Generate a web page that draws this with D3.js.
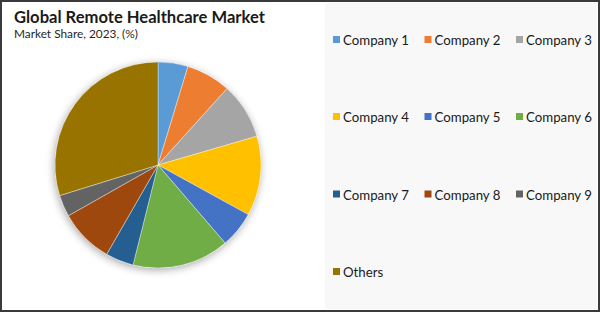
<!DOCTYPE html>
<html><head><meta charset="utf-8">
<script src="https://cdn.jsdelivr.net/npm/d3@7"></script>
<style>html,body{margin:0;padding:0;background:#fff;}svg{display:block;}</style>
</head><body>
<script>
const categories = ["Company 1","Company 2","Company 3","Company 4","Company 5","Company 6","Company 7","Company 8","Company 9","Others"];
const shares = [4.7, 7.0, 8.8, 12.5, 5.7, 15.2, 4.4, 8.5, 3.4, 29.8];
const colors = ["#5B9BD5","#ED7D31","#A5A5A5","#FFC000","#4472C4","#70AD47","#255E91","#9E480E","#636363","#997300"];
const title = "Global Remote Healthcare Market";
const subtitle = "Market Share, 2023, (%)";

const W = 600, H = 312;
const FONT = "Lato, 'Open Sans', sans-serif";
const svg = d3.select("body").append("svg").attr("width", W).attr("height", H);

const defs = svg.append("defs");
const f = defs.append("filter").attr("id","sh").attr("x","-20%").attr("y","-20%").attr("width","140%").attr("height","140%");
f.append("feGaussianBlur").attr("in","SourceAlpha").attr("stdDeviation",4).attr("result","b");
f.append("feOffset").attr("in","b").attr("dx",-1).attr("dy",2).attr("result","o");
f.append("feComponentTransfer").attr("in","o").attr("result","c")
  .append("feFuncA").attr("type","linear").attr("slope",0.35);
const m = f.append("feMerge");
m.append("feMergeNode").attr("in","c");
m.append("feMergeNode").attr("in","SourceGraphic");

svg.append("rect").attr("x",0).attr("y",0).attr("width",W).attr("height",H).attr("fill","#fff");
// legend panel
svg.append("rect").attr("x",325).attr("y",3).attr("width",272).attr("height",306).attr("fill","#f8f8f8");

function fit(sel, target) {
  const n = sel.node();
  let fs = parseFloat(sel.attr("font-size"));
  const w = n.getComputedTextLength();
  sel.attr("font-size", (fs * target / w).toFixed(2));
  return fs * target / w;
}

const t = svg.append("text").attr("x",14).attr("y",23).attr("font-family",FONT)
  .attr("font-weight","bold").attr("font-size",16).attr("fill","#1a1a1a").text(title);
fit(t, 251);
const st = svg.append("text").attr("x",14).attr("y",38).attr("font-family",FONT)
  .attr("font-size",12).attr("fill","#262626").text(subtitle);
fit(st, 124);

const cx = 158, cy = 165, r = 103;
const pie = d3.pie().sort(null).value(d => d)(shares);
const arc = d3.arc().innerRadius(0).outerRadius(r);
const color = d3.scaleOrdinal().domain(categories).range(colors);

const g = svg.append("g").attr("transform",`translate(${cx},${cy})`);
g.append("circle").attr("r",r).attr("fill","#fff").attr("filter","url(#sh)");
g.selectAll("path").data(pie).enter().append("path")
  .attr("d", arc).attr("fill",(d,i)=>color(categories[i]))
  .attr("stroke","#fff").attr("stroke-width",0.6).attr("stroke-opacity",0.6);

// legend
const colX = [333, 424.5, 516];
const rowY = [36, 113, 190.5, 268];
const lg = svg.append("g");
let legendFs = null;
categories.forEach((c,i)=>{
  const x = colX[i%3], y = rowY[Math.floor(i/3)];
  lg.append("rect").attr("x",x).attr("y",y).attr("width",7).attr("height",7).attr("fill",color(c));
  const tx = lg.append("text").attr("x",x+10).attr("y",y+9).attr("font-family",FONT)
    .attr("font-size",13).attr("fill","#1a1a1a").text(c);
  if (legendFs === null) legendFs = fit(tx, 66);
  else tx.attr("font-size", legendFs.toFixed(2));
});

// outer border
svg.append("rect").attr("x",1).attr("y",1).attr("width",W-2).attr("height",H-2)
  .attr("fill","none").attr("stroke","#3a3a3a").attr("stroke-width",2);
</script>
</body></html>
